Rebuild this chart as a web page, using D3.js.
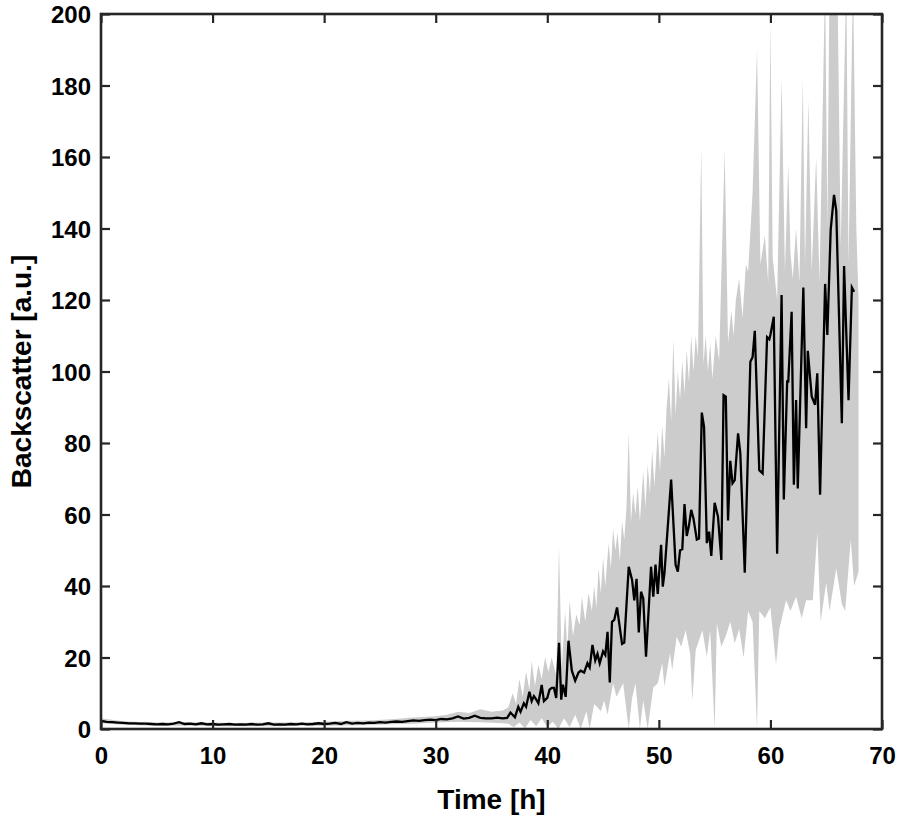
<!DOCTYPE html>
<html>
<head>
<meta charset="utf-8">
<script src="https://cdnjs.cloudflare.com/ajax/libs/d3/7.8.5/d3.min.js"></script>
<style>
  body { margin: 0; background: #fff; }
  text { font-family: "Liberation Sans", Arial, sans-serif; font-weight: bold; }
</style>
</head>
<body>
<svg id="chart" width="898" height="820"></svg>
<script>
// mean backscatter curve (time in h, value in a.u.)
var meanTime = [0,0.5,1,1.5,2,2.5,3,3.5,4,4.5,5,5.5,6,6.5,7,7.5,8,8.5,9,9.5,10,10.5,11,11.5,12,12.5,13,13.5,14,14.5,15,15.5,16,16.5,17,17.5,18,18.5,19,19.5,20,20.5,21,21.5,22,22.5,23,23.5,24,24.5,25,25.5,26,26.5,27,27.5,28,28.5,29,29.5,30,30.5,31,31.5,32,32.5,33,33.5,34,34.5,35,35.5,36,36.4,
  36.7,37.1,37.4,37.6,37.9,38.1,38.4,38.6,38.8,39.0,39.2,39.5,39.7,40.0,40.2,40.4,40.6,40.8,41.05,41.25,41.4,41.65,41.9,42.2,42.5,42.8,43.0,43.3,43.6,43.8,44.05,44.3,44.5,44.7,45.0,45.2,45.4,45.6,45.8,46.0,46.25,46.7,46.9,47.3,47.6,47.8,48.0,48.2,48.4,48.6,48.85,49.3,49.5,49.7,49.9,50.2,50.35,50.5,51.1,51.5,51.7,51.9,52.1,52.3,52.5,52.7,52.9,53.1,53.4,53.6,53.85,54.05,54.3,54.5,54.7,55.0,55.3,55.6,55.8,56.0,56.2,56.4,56.6,56.8,57.1,57.3,57.7,58.2,58.4,58.6,59.0,59.3,59.7,59.9,60.0,60.3,60.6,61.0,61.2,61.5,61.6,61.9,62.1,62.3,62.45,62.95,63.2,63.35,63.7,64.0,64.2,64.45,64.9,65.1,65.4,65.7,65.9,66.4,66.6,67.0,67.3,67.5];
var meanValue = [2.3,2.0,1.9,1.8,1.7,1.6,1.6,1.5,1.5,1.4,1.3,1.4,1.3,1.5,1.9,1.4,1.5,1.3,1.6,1.3,1.4,1.2,1.3,1.4,1.2,1.3,1.2,1.4,1.2,1.3,1.6,1.2,1.3,1.2,1.4,1.3,1.5,1.3,1.4,1.6,1.4,1.5,1.7,1.4,1.9,1.5,1.7,1.6,1.8,1.7,1.9,1.8,2.0,2.1,2.0,2.2,2.4,2.3,2.5,2.6,2.5,2.8,2.7,3.0,3.5,2.9,3.1,3.7,3.1,3.0,3.0,3.2,3.0,3.1,
  4.6,3.3,6.2,4.8,7.2,6.2,10.4,7.8,9.2,8.3,7.2,12.3,7.8,8.7,11,11.5,11.5,8.7,24.1,8.2,12.4,9,24.7,16.3,13.5,15.8,16.3,15.8,18.4,17.2,23.5,19.2,21,18.4,21.7,20.7,27.2,13,30,30.5,34,23.8,24.2,45.4,41.7,36,42,27,38.4,36.5,20.2,45.4,37,46,37.8,51.5,39.8,43.5,69.8,45.9,44,50,50.3,62.9,54,56.9,61.3,58.9,53,53.3,88.5,84.5,52,55.2,48.4,63.3,59.4,47.3,93.4,93,58.3,75,68.7,69.6,82.7,77.2,43.7,102.7,104,111.4,72.4,71.5,109.6,109,110.3,115.3,49,121.4,64.2,97.2,97.2,116.7,68.3,92,67.3,123.5,84.1,105.8,93,90.7,99.5,65.5,124.5,110.2,139.6,149.4,145,85.5,129.5,92,123.5,122.3];

// upper edge of the spread band
var upperTime = [0,2,4,6,8,10,12,14,16,18,20,22,24,26,28,30,31,32,33,34,35,36,36.5,36.9,37.2,37.5,37.8,38.1,38.4,38.6,38.9,39.2,39.5,39.8,40.1,40.4,40.8,41.05,41.3,41.6,41.8,42.0,42.3,42.6,42.9,43.1,43.4,43.7,
  44.0,44.2,44.4,44.6,44.8,45.0,45.2,45.5,45.7,45.9,46.1,46.3,46.5,46.7,46.9,47.1,47.3,47.5,47.7,47.9,48.1,48.3,48.6,48.8,49.0,49.2,49.4,49.6,49.9,50.1,50.3,50.5,50.7,50.9,51.1,51.3,51.5,51.7,51.9,52.1,52.3,52.5,52.7,52.9,53.1,53.3,53.5,53.8,54.0,54.2,54.4,54.6,54.8,55.1,55.4,55.9,56.2,56.5,56.7,56.9,57.2,57.5,57.8,
  58.0,58.4,58.8,59.1,59.5,59.8,60.0,60.2,60.6,61.0,61.3,61.6,61.8,62.0,62.3,62.6,62.9,63.1,63.4,63.7,64.1,64.4,64.9,65.1,65.3,66.0,66.3,66.8,67.0,67.4,67.7,67.9];
var upperValue = [3.0,2.2,1.9,1.8,1.9,1.8,1.7,1.8,1.8,1.9,2.0,2.3,2.4,2.7,3.2,3.6,4,4.8,4.5,5.5,4.8,5.2,6,10,7,14,9,16,11,19,12,18,14,20,16,20,15,51,17,33,22,36,26,32,29,37,30,38,
  33,40,34,45,38,48,40,52,45,56,50,55,47,58,53,62,83,58,66,60,68,58,72,62,74,66,78,68,83,72,85,76,90,98,86,109,88,100,92,103,94,106,97,110,100,110,104,163,102,110,100,108,98,110,103,162,108,117,110,120,126,115,130,
  128,150,190,130,138,125,198,132,120,182,128,158,133,126,140,125,182,130,176,128,160,125,210,140,210,210,135,210,130,210,140,120];

// lower edge of the spread band
var lowerTime = [0,2,4,6,8,10,12,14,16,18,20,22,24,26,28,30,32,34,36,36.5,37,37.5,38,38.5,39,39.5,40,40.5,41,41.5,42,42.5,43,43.5,43.8,44.2,44.5,44.8,45.1,45.4,45.9,46.2,46.8,47.3,47.6,47.9,48.3,48.6,49.0,49.5,49.9,50.3,50.5,51.0,51.2,51.6,52.0,52.4,52.8,53.0,53.3,53.9,54.3,54.6,55.0,55.2,55.6,56.0,56.4,56.8,57.2,57.6,58.0,58.4,58.8,59.0,59.5,60.0,60.5,60.8,61.4,61.8,62.3,62.8,63.2,63.8,64.2,64.5,65.0,65.3,65.9,66.4,66.7,67.2,67.5,67.9];
var lowerValue = [1.6,1.2,1.0,0.9,0.9,0.8,0.8,0.8,0.8,0.9,0.9,1.0,1.1,1.3,1.5,1.8,2.0,1.9,1.6,1.5,0.5,1.8,0.2,2.5,0.8,3,0.5,2,0,3,0.5,4,0,5,0,7,6,5,8,4,12.8,9,12.8,0,8.7,12.8,0,8,0,11.6,12.8,18.4,11.9,21.2,16.6,25.8,23,27.6,21.2,8,22,27.6,20.3,27.6,0,29.5,23,26,30,24,28,20,33,30,0,33,31,34,18,28,36,33,37,31,36,36,55,30,41,33,45,35,33,53,40,44];

var xTicks = [0,10,20,30,40,50,60,70];
var yTicks = [0,20,40,60,80,100,120,140,160,180,200];

var margin = {top: 14, right: 16, bottom: 91, left: 101};
var svg = d3.select("#chart");
var width = +svg.attr("width") - margin.left - margin.right;
var height = +svg.attr("height") - margin.top - margin.bottom;
var axisColor = "#262626";

var xScale = d3.scaleLinear().domain([0, 70]).range([0, width]);
var yScale = d3.scaleLinear().domain([0, 200]).range([height, 0]);

var plot = svg.append("g")
  .attr("transform", "translate(" + margin.left + "," + margin.top + ")");

plot.append("clipPath")
  .attr("id", "clip")
  .append("rect")
  .attr("width", width)
  .attr("height", height);

// band polygon: upper edge forward, lower edge backward
var bandPoints = upperTime.map(function(t, i) { return [t, upperValue[i]]; })
  .concat(lowerTime.map(function(t, i) { return [t, lowerValue[i]]; }).reverse());

var bandLine = d3.line()
  .x(function(d) { return xScale(d[0]); })
  .y(function(d) { return yScale(d[1]); });

plot.append("path")
  .datum(bandPoints)
  .attr("clip-path", "url(#clip)")
  .attr("fill", "#cccccc")
  .attr("stroke", "none")
  .attr("d", function(d) { return bandLine(d) + "Z"; });

var meanData = meanTime.map(function(t, i) { return {x: t, y: meanValue[i]}; });

plot.append("path")
  .datum(meanData)
  .attr("clip-path", "url(#clip)")
  .attr("fill", "none")
  .attr("stroke", "#000")
  .attr("stroke-width", 2.3)
  .attr("stroke-linejoin", "miter")
  .attr("d", d3.line()
    .x(function(d) { return xScale(d.x); })
    .y(function(d) { return yScale(d.y); }));

// axes, ticks inside like matlab
var tickLen = 9;
var xAxis = plot.append("g")
  .attr("transform", "translate(0," + height + ")")
  .call(d3.axisBottom(xScale).tickValues(xTicks).tickSizeInner(-tickLen).tickSizeOuter(0).tickPadding(18));
var xTop = plot.append("g")
  .call(d3.axisTop(xScale).tickValues(xTicks).tickSizeInner(-tickLen).tickSizeOuter(0).tickFormat(""));
var yAxis = plot.append("g")
  .call(d3.axisLeft(yScale).tickValues(yTicks).tickSizeInner(-tickLen).tickSizeOuter(0).tickPadding(10));
var yRight = plot.append("g")
  .attr("transform", "translate(" + width + ",0)")
  .call(d3.axisRight(yScale).tickValues(yTicks).tickSizeInner(-tickLen).tickSizeOuter(0).tickFormat(""));

[xAxis, xTop, yAxis, yRight].forEach(function(a) {
  a.select(".domain").remove();
  a.selectAll(".tick line").attr("stroke", axisColor).attr("stroke-width", 2.2);
  a.selectAll(".tick text")
    .attr("fill", "#000")
    .style("font-size", "24px")
    .style("font-weight", "bold");
});
xAxis.selectAll(".tick text").attr("dy", "0.71em");
yAxis.selectAll(".tick text").attr("dy", "0.36em");

plot.append("rect")
  .attr("width", width)
  .attr("height", height)
  .attr("fill", "none")
  .attr("stroke", axisColor)
  .attr("stroke-width", 2.6);

svg.append("text")
  .attr("x", margin.left + width / 2)
  .attr("y", 809)
  .attr("text-anchor", "middle")
  .attr("fill", "#000")
  .style("font-size", "28px")
  .text("Time [h]");

svg.append("text")
  .attr("transform", "translate(31," + (margin.top + height / 2) + ") rotate(-90)")
  .attr("text-anchor", "middle")
  .attr("fill", "#000")
  .style("font-size", "28px")
  .text("Backscatter [a.u.]");
</script>
</body>
</html>
